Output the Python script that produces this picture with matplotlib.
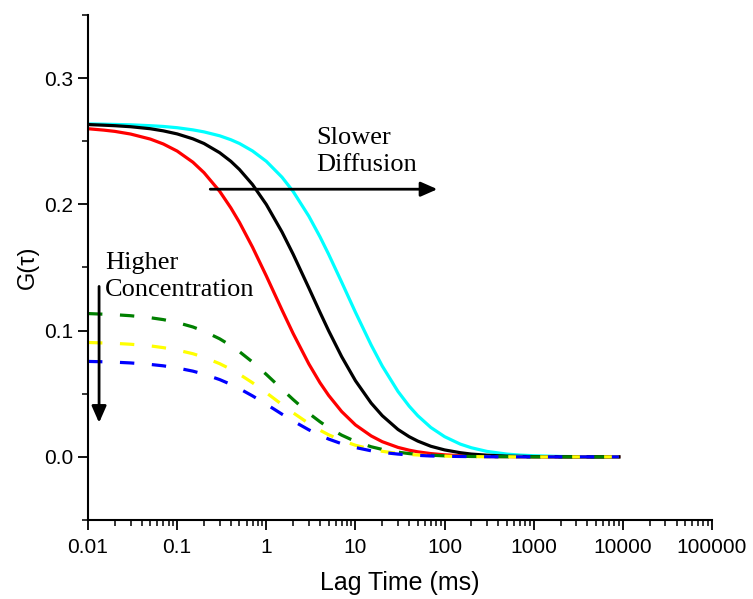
import matplotlib
matplotlib.use("Agg")
import matplotlib.pyplot as plt
from matplotlib.ticker import FixedLocator, FuncFormatter, MultipleLocator, LogLocator

# lag times (ms) and G(tau) values
tau = [0.01, 0.015, 0.02, 0.03, 0.05, 0.07, 0.1, 0.15, 0.2, 0.3, 0.4, 0.5, 0.7, 1, 1.5, 2, 3, 4, 5, 7,
       10, 15, 20, 30, 40, 50, 70, 100, 150, 200, 300, 500, 700, 1000, 2000, 3000, 5000, 9000]

red = [0.2599, 0.2588, 0.2578, 0.2557, 0.2517, 0.2478, 0.2422, 0.2334, 0.2251, 0.2103, 0.1972, 0.1857,
       0.1661, 0.1433, 0.1163, 0.0977, 0.0736, 0.0587, 0.0487, 0.0359, 0.0253, 0.0166, 0.0120, 0.0075,
       0.0053, 0.0040, 0.0026, 0.0016, 0.0009, 0.0006, 0.0003, 0.0002, 0.0001, 0.0001, 0.0000, 0.0000,
       0.0000, 0.0000]
black = [0.2632, 0.2627, 0.2623, 0.2615, 0.2599, 0.2582, 0.2558, 0.2519, 0.2482, 0.2409, 0.2341, 0.2276,
         0.2157, 0.1999, 0.1781, 0.1605, 0.1338, 0.1145, 0.0999, 0.0794, 0.0603, 0.0426, 0.0326, 0.0217,
         0.0160, 0.0125, 0.0084, 0.0055, 0.0033, 0.0022, 0.0013, 0.0006, 0.0004, 0.0002, 0.0001, 0.0000,
         0.0000, 0.0000]
cyan = [0.2637, 0.2635, 0.2633, 0.2630, 0.2623, 0.2617, 0.2607, 0.2590, 0.2574, 0.2543, 0.2512, 0.2482,
        0.2423, 0.2341, 0.2215, 0.2102, 0.1906, 0.1743, 0.1605, 0.1384, 0.1145, 0.0886, 0.0719, 0.0518,
        0.0402, 0.0326, 0.0233, 0.0160, 0.0101, 0.0072, 0.0043, 0.0022, 0.0014, 0.0009, 0.0003, 0.0002,
        0.0001, 0.0000]
green = [0.1135, 0.1130, 0.1126, 0.1118, 0.1102, 0.1087, 0.1064, 0.1029, 0.0995, 0.0935, 0.0881, 0.0833,
         0.0751, 0.0653, 0.0536, 0.0454, 0.0345, 0.0278, 0.0231, 0.0172, 0.0122, 0.0080, 0.0059, 0.0037,
         0.0026, 0.0020, 0.0013, 0.0008, 0.0005, 0.0003, 0.0002, 0.0001, 0.0000, 0.0000, 0.0000, 0.0000,
         0.0000, 0.0000]
yellow = [0.0906, 0.0902, 0.0899, 0.0892, 0.0879, 0.0865, 0.0846, 0.0817, 0.0789, 0.0738, 0.0694, 0.0654,
          0.0587, 0.0508, 0.0414, 0.0349, 0.0264, 0.0211, 0.0175, 0.0130, 0.0092, 0.0060, 0.0044, 0.0027,
          0.0019, 0.0015, 0.0009, 0.0006, 0.0003, 0.0002, 0.0001, 0.0001, 0.0000, 0.0000, 0.0000, 0.0000,
          0.0000, 0.0000]
blue = [0.0756, 0.0753, 0.0750, 0.0744, 0.0732, 0.0721, 0.0704, 0.0679, 0.0655, 0.0612, 0.0574, 0.0540,
        0.0483, 0.0417, 0.0338, 0.0284, 0.0214, 0.0171, 0.0141, 0.0104, 0.0074, 0.0048, 0.0035, 0.0022,
        0.0015, 0.0012, 0.0007, 0.0005, 0.0003, 0.0002, 0.0001, 0.0000, 0.0000, 0.0000, 0.0000, 0.0000,
        0.0000, 0.0000]

xticks = [0.01, 0.1, 1, 10, 100, 1000, 10000, 100000]
yticks = [0.0, 0.1, 0.2, 0.3]

plt.rcParams['font.family'] = ['Liberation Sans', 'DejaVu Sans']

fig = plt.figure(figsize=(7.53, 5.99), dpi=100)
ax = fig.add_axes([0.1169, 0.1319, 0.8287, 0.8431])

lw = 2.3
ax.plot(tau, cyan, color='#00ffff', lw=lw)
ax.plot(tau, red, color='#ff0000', lw=lw)
ax.plot(tau, black, color='black', lw=lw)
dash = (0, (4.5, 5.5))
ax.plot(tau, green, color='#008000', lw=lw, ls=dash)
ax.plot(tau, yellow, color='#ffff00', lw=lw, ls=dash)
ax.plot(tau, blue, color='#0000ff', lw=lw, ls=dash)

ax.set_xscale('log')
ax.set_xlim(0.01, 100000)
ax.set_ylim(-0.05, 0.35)
ax.xaxis.set_major_locator(FixedLocator(xticks))
ax.xaxis.set_major_formatter(FuncFormatter(lambda v, p: '%g' % v if v < 1e5 else '100000'))
ax.xaxis.set_minor_locator(LogLocator(base=10, subs=range(2, 10), numticks=20))
ax.yaxis.set_major_locator(FixedLocator(yticks))
ax.yaxis.set_major_formatter(FuncFormatter(lambda v, p: '%.1f' % v))
ax.yaxis.set_minor_locator(MultipleLocator(0.05))

for s in ['top', 'right']:
    ax.spines[s].set_visible(False)
for s in ['left', 'bottom']:
    ax.spines[s].set_linewidth(1.5)
ax.tick_params(which='major', direction='out', length=7, width=1.3, labelsize=15)
ax.tick_params(which='minor', direction='out', length=4, width=1.1)
ax.tick_params(axis='x', pad=6)

ax.set_xlabel('Lag Time (ms)', fontsize=18, labelpad=10)
ax.set_ylabel('G(τ)', fontsize=17, labelpad=4)

serif = ['Liberation Serif', 'DejaVu Serif']
ax.text(3.65, 0.242, 'Slower\nDiffusion', fontsize=19, family=serif, ha='left', va='center',
        linespacing=1.3)
ax.text(0.0155, 0.143, 'Higher\nConcentration', fontsize=19, family=serif, ha='left', va='center',
        linespacing=1.3)

arrow = dict(arrowstyle='-|>,head_length=0.5,head_width=0.22', lw=2, color='black',
             shrinkA=0, shrinkB=0, mutation_scale=20)
ax.annotate('', xy=(83, 0.212), xytext=(0.235, 0.212), arrowprops=arrow)
ax.annotate('', xy=(0.0133, 0.027), xytext=(0.0133, 0.135), arrowprops=arrow)

fig.savefig('out.png', dpi=100)
